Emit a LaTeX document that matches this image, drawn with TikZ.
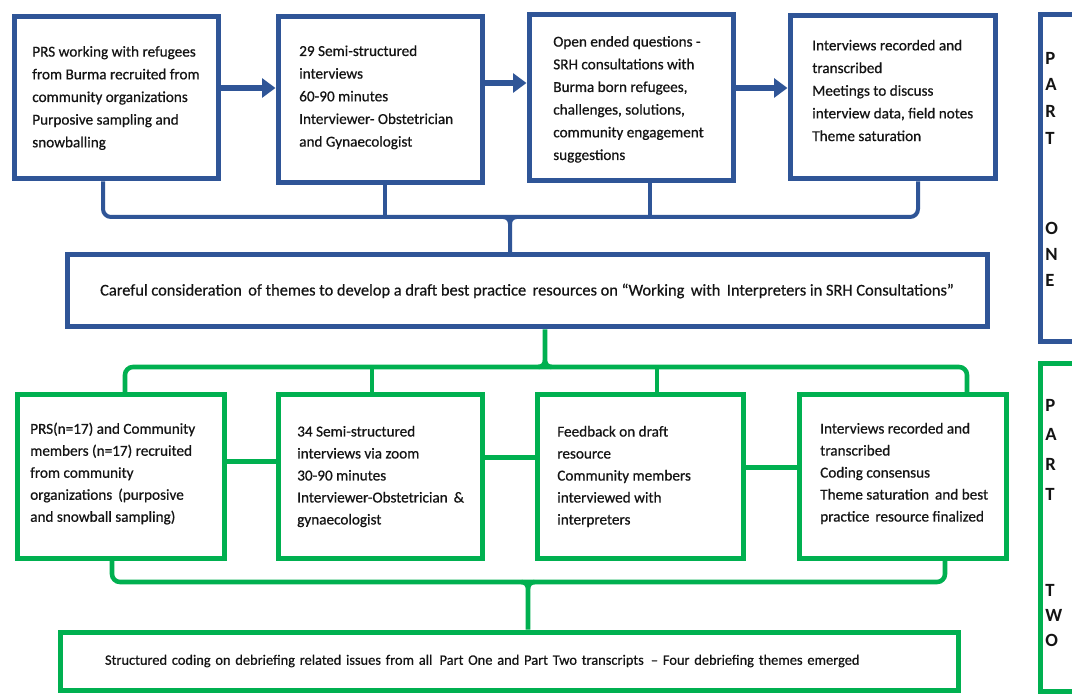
\documentclass[tikz,border=0pt]{standalone}
\usepackage{fontspec}
\setmainfont{Carlito}
\usetikzlibrary{arrows.meta}
\definecolor{cblue}{RGB}{47,85,151}
\definecolor{cgreen}{RGB}{0,176,80}
\definecolor{ctext}{RGB}{20,20,20}
\begin{document}
\begin{tikzpicture}[x=0.75pt,y=-0.75pt,
  box/.style={line width=3.75pt, inner sep=0pt},
  bbox/.style={box, draw=cblue},
  gbox/.style={box, draw=cgreen},
  btxt/.style={anchor=west, align=left, inner sep=0pt, text=ctext,
    font=\addfontfeature{FakeBold=0.6}\fontsize{11.4}{17}\selectfont},
  gtxt/.style={btxt, font=\addfontfeature{FakeBold=0.6}\fontsize{11.4}{16.5}\selectfont},
  bline/.style={draw=cblue, line width=3pt},
  gline/.style={draw=cgreen, line width=3.4pt},
  glink/.style={draw=cgreen, line width=3.75pt},
  barrow/.style={draw=cblue, line width=4.5pt, -{Triangle[length=10pt,width=14pt]}},
  parttxt/.style={font=\bfseries\fontsize{14}{20}\selectfont, text=ctext, align=left, anchor=west, inner sep=0pt},
]
\clip (0,0) rectangle (1072,695);
\fill[white] (0,0) rectangle (1072,695);

% top row (blue)
\node[bbox, minimum width=153pt, minimum height=121.5pt] (b1) at (116,98) {};
\node[bbox, minimum width=153pt, minimum height=124.5pt] (b2) at (380,100) {};
\node[bbox, minimum width=153pt, minimum height=124.5pt] (b3) at (631,98) {};
\node[bbox, minimum width=153.75pt, minimum height=122.25pt] (b4) at (892.5,97.5) {};
\node[btxt] (b1t) at ([xshift=15.4pt]b1.west)
  {PRS working with refugees\\from Burma recruited from\\community organizations\\Purposive sampling and\\snowballing};
\node[btxt] (b2t) at ([xshift=17.6pt,yshift=2pt]b2.west)
  {29 Semi-structured\\interviews\\60-90 minutes\\Interviewer- Obstetrician\\and Gynaecologist};
\node[btxt] (b3t) at ([xshift=19.9pt,yshift=-1pt]b3.west)
  {Open ended questions -\\SRH consultations with\\Burma born refugees,\\challenges, solutions,\\community engagement\\suggestions};
\node[btxt] (b4t) at ([xshift=18.4pt,yshift=5.25pt]b4.west)
  {Interviews recorded and\\transcribed\\Meetings to discuss\\interview data, field notes\\Theme saturation};

\draw[barrow] ([yshift=7.5pt]b1.east) -- ([yshift=7.5pt]b1.east -| b2.west);
\draw[barrow] ([yshift=12.75pt]b2.east) -- ([yshift=12.75pt]b2.east -| b3.west);
\draw[barrow] ([yshift=7.5pt]b3.east) -- ([yshift=7.5pt]b3.east -| b4.west);

% middle box
\node[bbox, minimum width=690pt, minimum height=54pt, text=ctext,
  font=\addfontfeature{FakeBold=0.6}\fontsize{12.3}{15}\selectfont] (mid) at (527,291)
  {Careful consideration\, of themes to develop a draft best practice\, resources on “Working\, with\, Interpreters in SRH Consultations”};

% blue bracket
\coordinate (bl) at (103,217);
\coordinate (br) at (918,217);
\coordinate (bj2) at (385,217);
\coordinate (bj3) at (650,217);
\coordinate (bm) at (510,217);
\draw[bline, rounded corners=6pt] (bl |- b1.south) -- (bl) -- (br) -- (br |- b4.south);
\draw[bline] (bj2 |- b2.south) -- (bj2);
\draw[bline] (bj3 |- b3.south) -- (bj3);
\draw[bline] ([xshift=-5pt]bm) to[out=0,in=90] ([yshift=-5pt]bm) -- (bm |- mid.north);
\draw[bline] ([xshift=5pt]bm) to[out=180,in=90] ([yshift=-5pt]bm);

% bottom row (green)
\node[gbox, minimum width=155.25pt, minimum height=122.25pt] (g1) at (120.5,476.5) {};
\node[gbox, minimum width=153pt, minimum height=122.25pt] (g2) at (380,476.5) {};
\node[gbox, minimum width=154.5pt, minimum height=122.25pt] (g3) at (640,476.5) {};
\node[gbox, minimum width=155.25pt, minimum height=122.25pt] (g4) at (902.5,476.5) {};
\node[gtxt] (g1t) at ([xshift=11.6pt,yshift=2.25pt]g1.west)
  {PRS(n=17) and Community\\members (n=17) recruited\\from community\\organizations\, (purposive\\and snowball sampling)};
\node[gtxt] (g2t) at ([xshift=16.1pt]g2.west)
  {34 Semi-structured\\interviews via zoom\\30-90 minutes\\Interviewer-Obstetrician\, \&\\gynaecologist};
\node[gtxt] (g3t) at ([xshift=16.9pt]g3.west)
  {Feedback on draft\\resource\\Community members\\interviewed with\\interpreters};
\node[gtxt] (g4t) at ([xshift=17.6pt,yshift=2.25pt]g4.west)
  {Interviews recorded and\\transcribed\\Coding consensus\\Theme saturation\, and best\\practice\, resource finalized};

\draw[glink] ([yshift=10.9pt]g1.east) -- ([yshift=10.9pt]g1.east -| g2.west);
\draw[glink] ([yshift=13.9pt]g2.east) -- ([yshift=13.9pt]g2.east -| g3.west);
\draw[glink] ([yshift=6.4pt]g3.east) -- ([yshift=6.4pt]g3.east -| g4.west);

% green bracket (top)
\coordinate (gl) at (125,367);
\coordinate (gr) at (967,367);
\coordinate (gj2) at (372,367);
\coordinate (gj3) at (657,367);
\coordinate (gm) at (545,367);
\draw[gline, rounded corners=6pt] (gl |- g1.north) -- (gl) -- (gr) -- (gr |- g4.north);
\draw[gline] (gj2) -- (gj2 |- g2.north);
\draw[gline] (gj3) -- (gj3 |- g3.north);
\draw[gline] (gm |- mid.south) -- ([yshift=5pt]gm) to[out=-90,in=180] ([xshift=5pt]gm);
\draw[gline] ([yshift=5pt]gm) to[out=-90,in=0] ([xshift=-5pt]gm);

% final box
\node[gbox, minimum width=673.5pt, minimum height=43.5pt, text width=606pt, inner xsep=33.75pt,
  align=left, text=ctext,
  font=\addfontfeature{FakeBold=0.6}\fontsize{10.8}{13}\selectfont] (bot) at (509,661)
  {Structured coding on debriefing related issues from all\, Part One and Part Two transcripts\, – Four debriefing themes emerged};

% green bracket (bottom)
\coordinate (hl) at (112,582);
\coordinate (hr) at (945,582);
\coordinate (hm) at (528,582);
\draw[gline, rounded corners=6pt] (hl |- g1.south) -- (hl) -- (hr) -- (hr |- g4.south);
\draw[gline] ([xshift=-5pt]hm) to[out=0,in=90] ([yshift=-5pt]hm) -- (hm |- bot.north);
\draw[gline] ([xshift=5pt]hm) to[out=180,in=90] ([yshift=-5pt]hm);

% part labels
\node[draw=cblue, line width=3.75pt, minimum width=37.5pt, minimum height=245.25pt, inner sep=0pt] (p1) at (1065,178.5) {};
\node[draw=cgreen, line width=3.75pt, minimum width=37.5pt, minimum height=245.25pt, inner sep=0pt] (p2) at (1065,527.5) {};
\node[parttxt] (p1a) at (1045,98) {P\\A\\R\\T};
\node[parttxt, font=\bfseries\fontsize{14}{19.5}\selectfont] (p1b) at (1045,254) {O\\N\\E};
\node[parttxt, font=\bfseries\fontsize{14}{22.25}\selectfont] (p2a) at (1045,449.5) {P\\A\\R\\T};
\node[parttxt, font=\bfseries\fontsize{14}{19}\selectfont] (p2b) at (1045,615.5) {T\\W\\O};
\end{tikzpicture}
\end{document}
